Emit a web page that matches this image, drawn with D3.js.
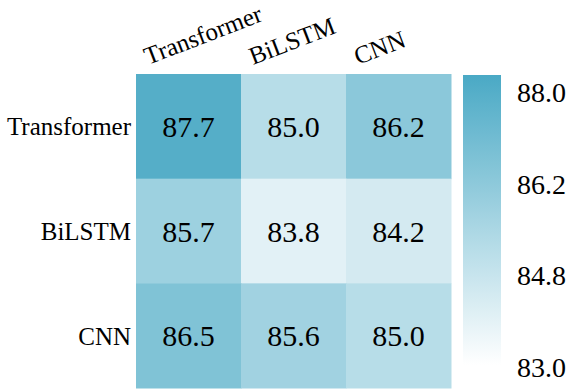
<!DOCTYPE html>
<html>
<head>
<meta charset="utf-8">
<script src="https://cdn.jsdelivr.net/npm/d3@7"></script>
<style>
  body { margin: 0; background: #fff; }
</style>
</head>
<body>
<div id="chart"></div>
<script>
// models on both axes
var models = ["Transformer", "BiLSTM", "CNN"];

// accuracy matrix, rows x columns
var values = [
    [87.7, 85.0, 86.2],
    [85.7, 83.8, 84.2],
    [86.5, 85.6, 85.0]
];

// colour bar range and tick labels
var colorDomain = [83.0, 88.0];
var cbTicks = ["88.0", "86.2", "84.8", "83.0"];

var width = 573, height = 392;
var serif = "'Liberation Serif', serif";

var svg = d3.select("#chart")
    .append("svg")
    .attr("width", width)
    .attr("height", height)
    .attr("font-family", serif)

var x = d3.scaleBand().domain(models).range([136, 451]);
var y = d3.scaleBand().domain(models).range([74, 388]);

var color = d3.scaleLinear()
    .domain(colorDomain)
    .range(["#ffffff", "#4aa9c5"])
    .interpolate(d3.interpolateRgb);

// flatten into cells
var cells = [];
values.forEach(function(row, i) {
    row.forEach(function(v, j) {
        cells.push({ row: models[i], col: models[j], value: v });
    });
});

svg.selectAll("rect.cell")
    .data(cells)
    .enter()
    .append("rect")
    .attr("class", "cell")
    .attr("x", function(d) { return x(d.col); })
    .attr("y", function(d) { return y(d.row); })
    .attr("width", x.bandwidth() + 0.5)
    .attr("height", y.bandwidth() + 0.5)
    .attr("fill", function(d) { return color(d.value); })

svg.selectAll("text.val")
    .data(cells)
    .enter()
    .append("text")
    .attr("class", "val")
    .attr("x", function(d) { return x(d.col) + x.bandwidth() / 2; })
    .attr("y", function(d) { return y(d.row) + y.bandwidth() / 2; })
    .attr("dy", "0.36em")
    .attr("text-anchor", "middle")
    .style("font-family", serif)
    .style("font-size", "30px")
    .text(function(d) { return d.value.toFixed(1); })

// row labels
svg.selectAll("text.rowlab")
    .data(models)
    .enter()
    .append("text")
    .attr("class", "rowlab")
    .attr("x", 131)
    .attr("y", function(d) { return y(d) + y.bandwidth() / 2; })
    .attr("dy", "0.36em")
    .attr("text-anchor", "end")
    .style("font-family", serif)
    .style("font-size", "25px")
    .text(function(d) { return d; })

// column labels, rotated
svg.selectAll("text.collab")
    .data(models)
    .enter()
    .append("text")
    .attr("class", "collab")
    .attr("text-anchor", "start")
    .attr("transform", function(d) {
        return "translate(" + (x(d) + 12) + ",65) rotate(-21)";
    })
    .style("font-family", serif)
    .style("font-size", "25px")
    .text(function(d) { return d; })

// colour bar
var cbX = 463, cbW = 38;
var cbY = d3.scaleLinear().domain(colorDomain).range([365, 75]);

var defs = svg.append("defs");
var grad = defs.append("linearGradient")
    .attr("id", "cbgrad")
    .attr("x1", "0").attr("y1", "1")
    .attr("x2", "0").attr("y2", "0");
d3.range(0, 1.0001, 0.1).forEach(function(t) {
    var v = colorDomain[0] + t * (colorDomain[1] - colorDomain[0]);
    grad.append("stop")
        .attr("offset", t)
        .attr("stop-color", color(v));
});

svg.append("rect")
    .attr("x", cbX)
    .attr("y", cbY(colorDomain[1]))
    .attr("width", cbW)
    .attr("height", cbY(colorDomain[0]) - cbY(colorDomain[1]))
    .attr("fill", "url(#cbgrad)")

var tickPos = d3.scalePoint().domain(cbTicks).range([92, 367]);

svg.selectAll("text.cbtick")
    .data(cbTicks)
    .enter()
    .append("text")
    .attr("class", "cbtick")
    .attr("x", 517)
    .attr("y", function(d) { return tickPos(d); })
    .attr("dy", "0.36em")
    .style("font-family", serif)
    .style("font-size", "28px")
    .text(function(d) { return d; })
</script>
</body>
</html>
